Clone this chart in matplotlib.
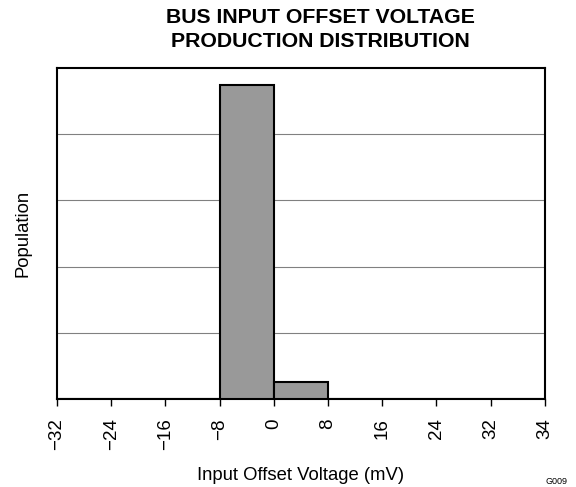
import matplotlib
matplotlib.use("Agg")
import matplotlib.pyplot as plt

plt.rcParams['font.family'] = ['Liberation Sans', 'DejaVu Sans']

# bin edges shown as tick labels (evenly spaced on the chart)
tick_labels = ["\u221232", "\u221224", "\u221216", "\u22128", "0", "8", "16", "24", "32", "34"]
# population of each bin between consecutive ticks (relative units)
bin_counts = [0, 0, 0, 4.75, 0.25, 0, 0, 0, 0]

fig = plt.figure(figsize=(5.76, 4.87), dpi=100)
ax = fig.add_axes([0.099, 0.181, 0.847, 0.679])

ax.bar(range(len(bin_counts)), bin_counts, width=1, align='edge',
       color='#999999', edgecolor='black', linewidth=1.5, zorder=3)

ax.set_xlim(0, len(tick_labels) - 1)
ax.set_ylim(0, 5)
ax.set_xticks(range(len(tick_labels)))
ax.set_xticklabels(tick_labels, rotation=90, fontsize=13.5)
ax.set_yticks([1, 2, 3, 4])
ax.set_yticklabels([])
ax.tick_params(axis='y', length=0)
ax.tick_params(axis='x', direction='out', length=5, width=1, pad=9)
ax.grid(axis='y', color='#808080', linewidth=0.8, zorder=0)
for s in ax.spines.values():
    s.set_linewidth(1.5)

ax.set_xlabel("Input Offset Voltage (mV)", fontsize=13.3, labelpad=12)
ax.set_ylabel("Population", fontsize=13.3, labelpad=15)
ax.set_title("BUS INPUT OFFSET VOLTAGE\nPRODUCTION DISTRIBUTION",
             fontsize=15.3, fontweight='bold', pad=15, linespacing=1.38, x=0.539)
fig.text(0.986, 0.006, "G009", fontsize=6.5, ha='right')

fig.savefig("out.png", dpi=100)
